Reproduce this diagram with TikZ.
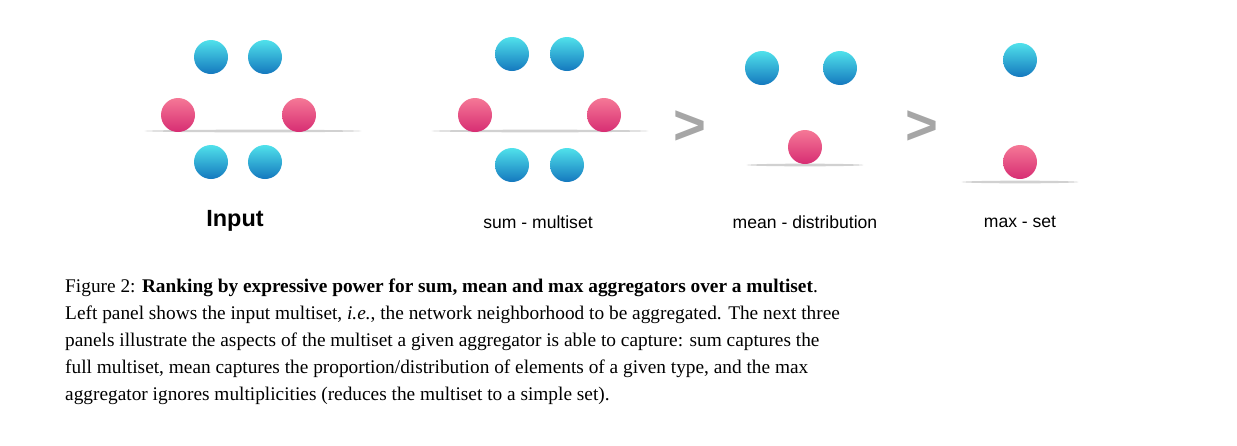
\documentclass[tikz,border=0pt]{standalone}
\usepackage{fontspec}
\usetikzlibrary{shapes.geometric}
\setmainfont{Liberation Serif}
\setsansfont{Liberation Sans}
\begin{document}
\begin{tikzpicture}[x=0.03cm,y=-0.03cm,
  blue/.style={circle,minimum size=1.02cm,inner sep=0,draw=none,top color={rgb,255:red,80;green,225;blue,235},bottom color={rgb,255:red,20;green,120;blue,190}},
  pink/.style={circle,minimum size=1.02cm,inner sep=0,draw=none,top color={rgb,255:red,245;green,120;blue,150},bottom color={rgb,255:red,215;green,45;blue,115}},
  shad/.style={ellipse,minimum width=#1,minimum height=0.08cm,inner sep=0,fill=black!18,draw=none},
  gt/.style={font=\sffamily\bfseries\fontsize{48}{48}\selectfont,text=black!35,inner sep=0},
  lab/.style={font=\sffamily\fontsize{15}{18}\selectfont,inner sep=0},
  captext/.style={anchor=north west,text width=33.3cm,inner sep=0,align=justify,font=\fontsize{16.5}{20}\selectfont},
  captextl/.style={anchor=north west,inner sep=0,font=\fontsize{16.5}{20}\selectfont}]
\useasboundingbox (0,0) rectangle (1237,445);
\node[shad=6.5cm] (s1) at (253,131) {};
\node[shad=6.5cm] (s2) at (540,131) {};
\node[shad=3.5cm] (s3) at (805,165) {};
\node[shad=3.5cm] (s4) at (1020,182) {};
\node[blue] (i1) at (211,57) {}; \node[blue] (i2) at (265,57) {};
\node[blue] (i3) at (211,162) {}; \node[blue] (i4) at (265,162) {};
\node[pink] (i5) at (178,115) {}; \node[pink] (i6) at (299,115) {};
\node[blue] (a1) at (512,54) {}; \node[blue] (a2) at (567,54) {};
\node[blue] (a3) at (512,165) {}; \node[blue] (a4) at (567,165) {};
\node[pink] (a5) at (475,115) {}; \node[pink] (a6) at (604,115) {};
\node[gt] (g1) at (690,128) {>};
\node[blue] (m1) at (762,68) {}; \node[blue] (m2) at (840,68) {};
\node[pink] (m3) at (805,147) {};
\node[gt] (g2) at (922,128) {>};
\node[blue] (x1) at (1020,60) {}; \node[pink] (x2) at (1020,162) {};
\node[lab,font=\sffamily\bfseries\fontsize{20}{24}\selectfont] (l1) at (235,221) {Input};
\node[lab] (l2) at (538,222) {sum - multiset};
\node[lab] (l3) at (805,222) {mean - distribution};
\node[lab] (l4) at (1020,222) {max - set};
\node[captext] (c1) at (65,279) {\parfillskip=0pt Figure 2: \textbf{Ranking by expressive power for sum, mean and max aggregators over a multiset}.};
\node[captext] (c2) at (65,306) {\parfillskip=0pt Left panel shows the input multiset, \textit{i.e.}, the network neighborhood to be aggregated. The next three};
\node[captext] (c3) at (65,333) {\parfillskip=0pt panels illustrate the aspects of the multiset a given aggregator is able to capture: sum captures the};
\node[captext] (c4) at (65,360) {\parfillskip=0pt full multiset, mean captures the proportion/distribution of elements of a given type, and the max};
\node[captextl] (c5) at (65,387) {aggregator ignores multiplicities (reduces the multiset to a simple set).};
\end{tikzpicture}
\end{document}
